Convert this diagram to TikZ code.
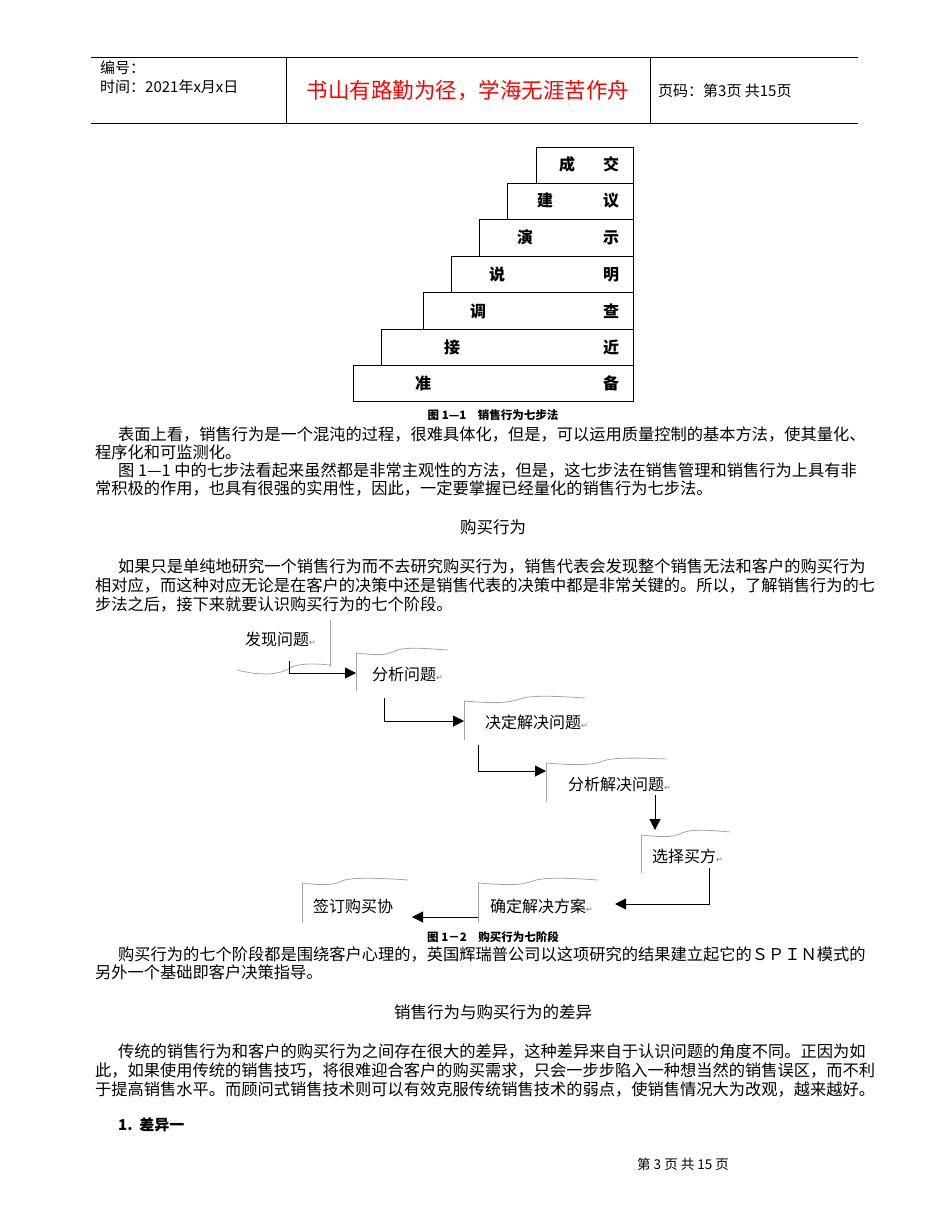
\documentclass[tikz,border=0pt]{standalone}
\usepackage{fontspec}
\setmainfont{Noto Sans CJK SC}
\newfontfamily\sym{DejaVu Sans}
\usetikzlibrary{arrows.meta}
\begin{document}
\begin{tikzpicture}[x=1pt,y=-1pt,
  body/.style={anchor=base west,inner sep=0pt,font=\fontsize{16.25}{18}\selectfont},
  ttl/.style={anchor=base,inner sep=0pt,font=\fontsize{16.5}{18}\selectfont},
  figcap/.style={anchor=base,inner sep=0pt,font=\fontsize{11.5}{13}\selectfont\bfseries},
  stair/.style={draw,line width=0.8pt},
  sw/.style={anchor=base,inner sep=0pt,font=\fontsize{16}{18}\selectfont\bfseries},
  ft/.style={anchor=base west,inner sep=0pt,font=\fontsize{16}{18}\selectfont},
  hd/.style={anchor=base west,inner sep=0pt,font=\fontsize{15}{17}\selectfont},
  wave/.style={draw=gray!70,line width=0.8pt},
  vl/.style={draw=gray!70,line width=0.8pt},
  arr/.style={draw,line width=1pt,-{Triangle[length=11pt,width=11pt]}},
  rm/.style={font=\sym\fontsize{8}{8}\selectfont,text=gray}]
\useasboundingbox[fill=white] (0,0) rectangle (950,1230);
% header
\draw[line width=0.7pt] (91,57) -- (858,57);
\draw[line width=0.7pt] (91,123) -- (858,123);
\draw[line width=0.5pt] (286,57) -- (286,123);
\draw[line width=0.5pt] (650,57) -- (650,123);
\node[hd] (h1) at (100,74) {编号：};
\node[hd] (h2) at (100,93) {时间：2021年x月x日};
\node[anchor=base,inner sep=0pt,text=red,font=\fontsize{21.5}{24}\selectfont] (h3) at (468,99) {书山有路勤为径，学海无涯苦作舟};
\node[hd] (h4) at (658,97) {页码：第3页 共15页};
% staircase
\foreach \l/\t/\b/\x/\a/\c in {536/147/183/567/成/交,507/183/219/545/建/议,479/219/256/525/演/示,451/256/292/497/说/明,423/292/329/478/调/查,381/329/365/452/接/近,353/365/401/423/准/备}{
  \draw[stair] (\l,\t) rectangle (633,\b);
  \node[sw] at (\x,{\b-12}) {\a};
  \node[sw] at (611,{\b-12}) {\c};
}
\node[figcap] (c1) at (493,419) {图 1—1\quad 销售行为七步法};
% paragraph 1
\node[body] at (118,440) {表面上看，销售行为是一个混沌的过程，很难具体化，但是，可以运用质量控制的基本方法，使其量化、};
\node[body] at (95,458) {程序化和可监测化。};
\node[body] at (118,476) {图 1—1 中的七步法看起来虽然都是非常主观性的方法，但是，这七步法在销售管理和销售行为上具有非};
\node[body] at (95,494) {常积极的作用，也具有很强的实用性，因此，一定要掌握已经量化的销售行为七步法。};
\node[ttl] at (493,533) {购买行为};
\node[body] at (118,572) {如果只是单纯地研究一个销售行为而不去研究购买行为，销售代表会发现整个销售无法和客户的购买行为};
\node[body] at (95,591) {相对应，而这种对应无论是在客户的决策中还是销售代表的决策中都是非常关键的。所以，了解销售行为的七};
\node[body] at (95,610) {步法之后，接下来就要认识购买行为的七个阶段。};
% flow
\node[ft] (f1) at (245,645) {发现问题\tikz[baseline]\node[rm,inner sep=0pt,anchor=base]{↵};};
\draw[vl] (330,620) -- (330,667);
\draw[wave] (237,670) .. controls (260,676) and (280,675) .. (290,668) .. controls (296,664) and (310,663) .. (330,665);
\node[ft] (f2) at (372,680) {分析问题\tikz[baseline]\node[rm,inner sep=0pt,anchor=base]{↵};};
\draw[vl] (356,653) -- (356,691);
\draw[wave] (356,653) .. controls (375,655) and (385,656) .. (395,651) .. controls (403,647) and (420,648) .. (448,650);
\node[ft] (f3) at (485,728) {决定解决问题\tikz[baseline]\node[rm,inner sep=0pt,anchor=base]{↵};};
\draw[vl] (464,701) -- (464,740);
\draw[wave] (464,701) .. controls (490,703) and (505,704) .. (520,699) .. controls (530,695) and (555,696) .. (585,698);
\node[ft] (f4) at (568,790) {分析解决问题\tikz[baseline]\node[rm,inner sep=0pt,anchor=base]{↵};};
\draw[vl] (546,763) -- (546,802);
\draw[wave] (546,763) .. controls (572,765) and (590,766) .. (603,761) .. controls (613,757) and (640,758) .. (667,759);
\node[ft] (f5) at (652,862) {选择买方\tikz[baseline]\node[rm,inner sep=0pt,anchor=base]{↵};};
\draw[vl] (641,835) -- (641,873);
\draw[wave] (641,835) .. controls (660,837) and (672,838) .. (682,833) .. controls (690,829) and (710,830) .. (730,832);
\node[ft] (f6) at (490,912) {确定解决方案\tikz[baseline]\node[rm,inner sep=0pt,anchor=base]{↵};};
\draw[vl] (478,883) -- (478,923);
\draw[wave] (478,883) .. controls (505,885) and (520,886) .. (533,881) .. controls (543,877) and (570,878) .. (598,880);
\node[ft] (f7) at (313,912) {签订购买协};
\draw[vl] (302,883) -- (302,923);
\draw[wave] (302,883) .. controls (320,885) and (332,886) .. (342,881) .. controls (350,877) and (380,878) .. (408,880);
\coordinate (a1s) at (289,661); \coordinate (a1e) at (356,673);
\draw[arr] (a1s) |- (a1e);
\coordinate (a2s) at (384,698); \coordinate (a2e) at (464,721);
\draw[arr] (a2s) |- (a2e);
\coordinate (a3s) at (478,745); \coordinate (a3e) at (546,771);
\draw[arr] (a3s) |- (a3e);
\coordinate (a4s) at (655,795); \coordinate (a4e) at (655,830);
\draw[arr] (a4s) -- (a4e);
\coordinate (a5s) at (709,868); \coordinate (a5e) at (615,904);
\draw[arr] (a5s) |- (a5e);
\coordinate (a6s) at (478,917); \coordinate (a6e) at (412,917);
\draw[arr] (a6s) -- (a6e);
\node[figcap] (c2) at (493,941) {图 1－2\quad 购买行为七阶段};
% paragraph 2
\node[body] at (118,960) {购买行为的七个阶段都是围绕客户心理的，英国辉瑞普公司以这项研究的结果建立起它的ＳＰＩＮ模式的};
\node[body] at (95,978) {另外一个基础即客户决策指导。};
\node[ttl] at (493,1018) {销售行为与购买行为的差异};
\node[body] at (118,1057) {传统的销售行为和客户的购买行为之间存在很大的差异，这种差异来自于认识问题的角度不同。正因为如};
\node[body] at (95,1076) {此，如果使用传统的销售技巧，将很难迎合客户的购买需求，只会一步步陷入一种想当然的销售误区，而不利};
\node[body] at (95,1095) {于提高销售水平。而顾问式销售技术则可以有效克服传统销售技术的弱点，使销售情况大为改观，越来越好。};
\node[body,font=\fontsize{15}{18}\selectfont\bfseries] at (118,1130) {1.\ \ 差异一};
\node[anchor=base,inner sep=0pt,font=\fontsize{13.5}{15}\selectfont] at (683,1169) {第 3 页 共 15 页};
\end{tikzpicture}
\end{document}
